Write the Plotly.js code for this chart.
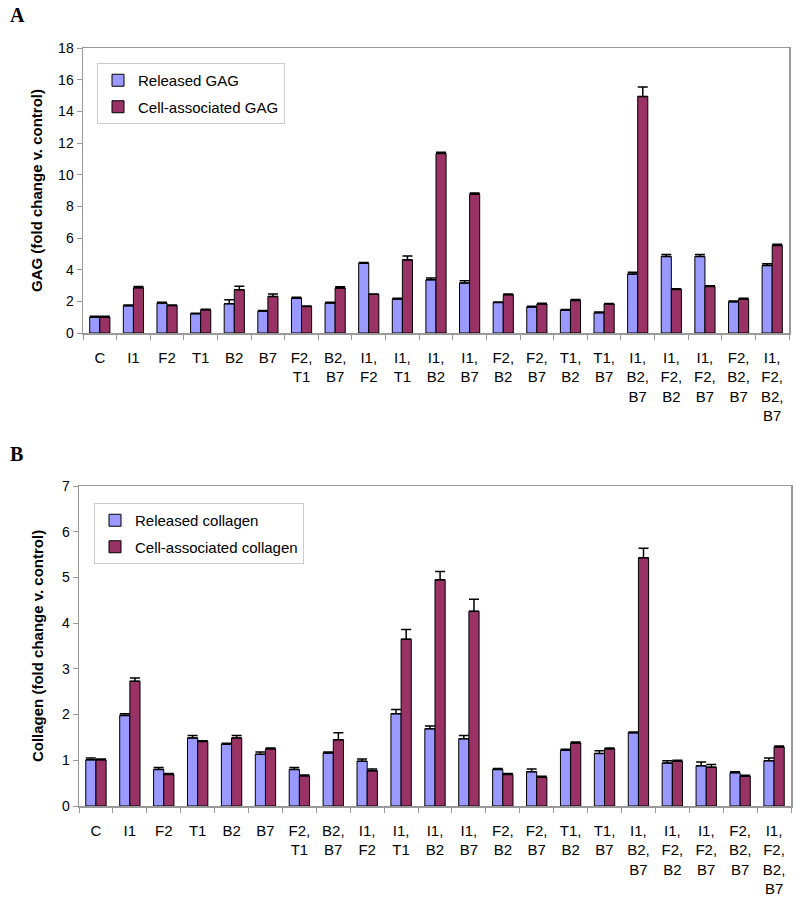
<!DOCTYPE html>
<html><head><meta charset="utf-8">
<script src="https://cdn.plot.ly/plotly-3.0.1.min.js"></script>
<style>body{margin:0;padding:0;background:#fff}#chart{width:800px;height:902px}</style>
</head><body><div id="chart"></div>
<script>
const categories = ["C","I1","F2","T1","B2","B7","F2,<br>T1","B2,<br>B7","I1,<br>F2","I1,<br>T1","I1,<br>B2","I1,<br>B7","F2,<br>B2","F2,<br>B7","T1,<br>B2","T1,<br>B7","I1,<br>B2,<br>B7","I1,<br>F2,<br>B2","I1,<br>F2,<br>B7","F2,<br>B2,<br>B7","I1,<br>F2,<br>B2,<br>B7"];

const gagReleased    = [1.0,1.72,1.89,1.22,1.85,1.37,2.2,1.89,4.41,2.14,3.36,3.15,1.93,1.64,1.43,1.28,3.72,4.83,4.83,1.97,4.26];
const gagReleasedErr = [0.05,0.05,0.05,0.03,0.25,0.05,0.05,0.05,0.05,0.05,0.12,0.15,0.03,0.05,0.05,0.05,0.12,0.12,0.12,0.05,0.12];
const gagCell        = [1.0,2.86,1.74,1.47,2.73,2.31,1.68,2.84,2.44,4.62,11.34,8.76,2.42,1.83,2.06,1.83,14.94,2.75,2.94,2.14,5.53];
const gagCellErr     = [0.05,0.08,0.03,0.03,0.22,0.15,0.03,0.08,0.03,0.25,0.08,0.08,0.05,0.05,0.05,0.03,0.6,0.05,0.05,0.05,0.08];

const colReleased    = [1.01,1.98,0.80,1.49,1.35,1.13,0.80,1.16,0.98,2.02,1.69,1.47,0.80,0.75,1.22,1.15,1.60,0.94,0.88,0.73,0.99];
const colReleasedErr = [0.04,0.04,0.04,0.05,0.02,0.05,0.04,0.02,0.05,0.09,0.06,0.07,0.02,0.06,0.02,0.06,0.02,0.05,0.08,0.02,0.06];
const colCell        = [1.01,2.73,0.69,1.41,1.49,1.25,0.66,1.45,0.77,3.65,4.95,4.26,0.69,0.63,1.38,1.25,5.43,0.98,0.85,0.65,1.29];
const colCellErr     = [0.02,0.07,0.02,0.02,0.05,0.02,0.02,0.15,0.04,0.21,0.18,0.26,0.02,0.02,0.02,0.02,0.21,0.02,0.06,0.02,0.02];

const cRel = '#9999FF', cCell = '#993366';
const FONT = 'Liberation Sans, Arial, sans-serif';

function barTrace(name, y, err, color, xa, ya, legend, grp) {
  return {
    type: 'bar', name: name, x: categories, y: y, xaxis: xa, yaxis: ya, legend: legend, legendgroup: grp,
    marker: {color: color, line: {color: '#000', width: 1}},
    error_y: {type: 'data', array: err, arrayminus: err.map(() => 0), symmetric: false, color: '#000', thickness: 1.5, width: 5}
  };
}

const data = [
  barTrace('Released GAG', gagReleased, gagReleasedErr, cRel, 'x', 'y', 'legend', 'a'),
  barTrace('Cell-associated GAG', gagCell, gagCellErr, cCell, 'x', 'y', 'legend', 'b'),
  barTrace('Released collagen', colReleased, colReleasedErr, cRel, 'x2', 'y2', 'legend2', 'c'),
  barTrace('Cell-associated collagen', colCell, colCellErr, cCell, 'x2', 'y2', 'legend2', 'd')
];

const xbase = {
  type: 'category', showline: true, mirror: true, linecolor: '#999', linewidth: 1.5,
  ticks: 'outside', tickson: 'boundaries', ticklen: 5, tickcolor: '#999', ticklabelstandoff: 10,
  tickfont: {family: FONT, size: 15, color: '#000'}, showgrid: false, zeroline: false, fixedrange: true
};
const ybase = {
  showline: true, mirror: true, linecolor: '#999', linewidth: 1.5,
  ticks: 'outside', ticklen: 5, tickcolor: '#999',
  tickfont: {family: FONT, size: 14, color: '#000'}, showgrid: false, zeroline: false, fixedrange: true
};
const legBase = {
  xanchor: 'left', yanchor: 'top', bgcolor: '#fff', bordercolor: '#ccc', borderwidth: 1,
  font: {family: FONT, size: 15, color: '#000'}, tracegroupgap: 4, traceorder: 'grouped', itemwidth: 30
};

const layout = {
  width: 800, height: 902, margin: {l: 0, r: 0, t: 0, b: 0},
  paper_bgcolor: '#fff', plot_bgcolor: '#fff', showlegend: true,
  barmode: 'group', bargap: 0.4, bargroupgap: 0,
  xaxis: Object.assign({}, xbase, {domain: [83/800, 789/800], anchor: 'y'}),
  yaxis: Object.assign({}, ybase, {domain: [1-333/902, 1-48/902], anchor: 'x', range: [0, 18], dtick: 2,
    title: {text: '<b>GAG (fold change v. control)</b>', font: {family: FONT, size: 15, color: '#000'}, standoff: 12}}),
  xaxis2: Object.assign({}, xbase, {domain: [79/800, 791/800], anchor: 'y2'}),
  yaxis2: Object.assign({}, ybase, {domain: [1-806/902, 1-486/902], anchor: 'x2', range: [0, 7], dtick: 1,
    title: {text: '<b>Collagen (fold change v. control)</b>', font: {family: FONT, size: 15, color: '#000'}, standoff: 14}}),
  legend: Object.assign({}, legBase, {x: 97/800, y: 1-63/902}),
  legend2: Object.assign({}, legBase, {x: 94/800, y: 1-503/902}),
  annotations: [
    {text: '<b>A</b>', xref: 'paper', yref: 'paper', x: 8/800, y: 1-15/902, xanchor: 'left', yanchor: 'middle', showarrow: false,
     font: {family: 'Liberation Serif, Times New Roman, serif', size: 20, color: '#000'}},
    {text: '<b>B</b>', xref: 'paper', yref: 'paper', x: 8/800, y: 1-454/902, xanchor: 'left', yanchor: 'middle', showarrow: false,
     font: {family: 'Liberation Serif, Times New Roman, serif', size: 20, color: '#000'}}
  ]
};

Plotly.newPlot('chart', data, layout, {staticPlot: true});
</script></body></html>
